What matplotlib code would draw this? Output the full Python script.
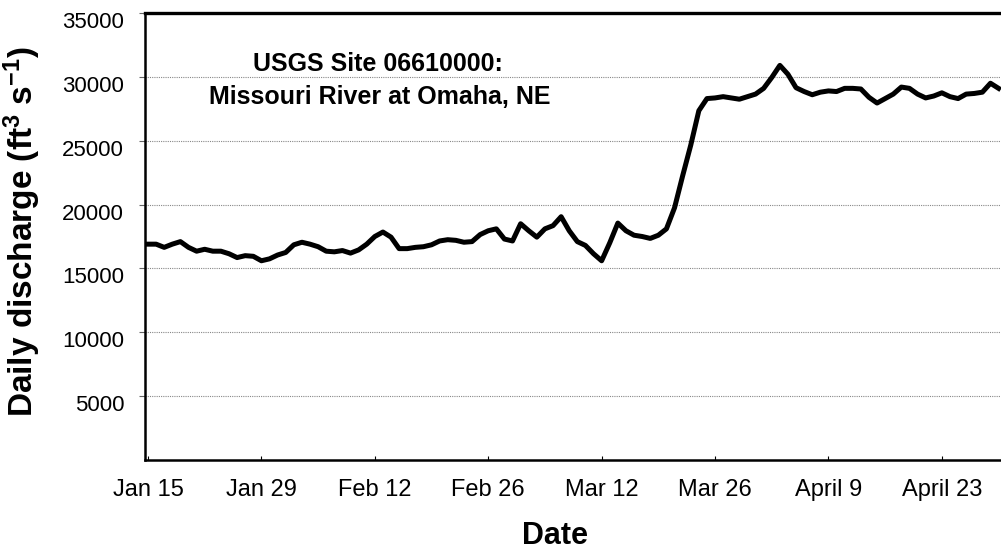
import numpy as np
import matplotlib
matplotlib.use("Agg")
import matplotlib.pyplot as plt
import matplotlib.transforms as mtransforms

plt.rcParams['font.family'] = ['Liberation Sans', 'DejaVu Sans']
plt.rcParams['mathtext.fontset'] = 'custom'
plt.rcParams['mathtext.rm'] = 'Liberation Sans:bold'
plt.rcParams['mathtext.it'] = 'Liberation Sans:bold'
plt.rcParams['mathtext.default'] = 'rm'

# daily discharge, ft3/s, one value per day starting Jan 15
discharge = [
    16900, 16900, 16650, 16900, 17100, 16650, 16350, 16500, 16350, 16350,
    16150, 15850, 16000, 15950, 15600, 15750, 16050, 16250, 16850, 17050,
    16900, 16700, 16350, 16300, 16400, 16200, 16450, 16900, 17500, 17850,
    17450, 16550, 16550, 16650, 16700, 16850, 17150, 17250, 17200, 17050,
    17100, 17650, 17950, 18100, 17300, 17150, 18500, 17950, 17450, 18100,
    18350, 19050, 17950, 17100, 16800, 16150, 15600, 17000, 18550, 17950,
    17600, 17500, 17350, 17600, 18100, 19750, 22250, 24650, 27350, 28300,
    28350, 28450, 28350, 28250, 28450, 28650, 29100, 29950, 30900, 30200,
    29150, 28850, 28600, 28800, 28900, 28850, 29100, 29100, 29050, 28400,
    27950, 28300, 28650, 29200, 29100, 28650, 28350, 28500, 28750, 28450,
    28300, 28650, 28700, 28800, 29500, 29100,
]
days = np.arange(len(discharge))

tick_days = [0, 14, 28, 42, 56, 70, 84, 98]
tick_labels = ['Jan 15', 'Jan 29', 'Feb 12', 'Feb 26', 'Mar 12', 'Mar 26', 'April 9', 'April 23']
y_ticks = [5000, 10000, 15000, 20000, 25000, 30000, 35000]

fig = plt.figure(figsize=(10.01, 5.49), dpi=100)
ax = fig.add_axes([145 / 1001, 89 / 549, 856 / 1001, 447 / 549])

ax.plot(days, discharge, color='black', lw=3.6, solid_joinstyle='round')

ax.set_xlim(-0.37, 105.3)
ax.set_ylim(0, 35000)
ax.set_yticks(y_ticks)
ax.set_yticklabels([str(v) for v in y_ticks], fontsize=16)
ax.set_xticks(tick_days)
ax.set_xticklabels(tick_labels, fontsize=17)
ax.tick_params(axis='x', direction='in', length=3, width=0.8, pad=14)
ax.tick_params(axis='y', direction='out', length=4, width=0.8, pad=11, color='#666666')

# y labels sit a little below their gridlines in the original
shift = mtransforms.ScaledTranslation(0, -7 / 100, fig.dpi_scale_trans)
for lab in ax.get_yticklabels():
    lab.set_transform(lab.get_transform() + shift)

# dotted grid
for v in y_ticks[:-1]:
    ax.axhline(v, color='#888888', lw=0.8, ls=(0, (1, 1)), zorder=0)

for s in ['left', 'bottom']:
    ax.spines[s].set_linewidth(1.8)
ax.spines['top'].set_linewidth(2.4)
ax.spines['right'].set_visible(False)

ax.set_ylabel(r'Daily discharge (ft$^{3}$ s$^{-1}$)', fontsize=24, fontweight='bold')
ax.yaxis.set_label_coords((43 - 145) / 856, 0.51)
ax.set_xlabel('Date', fontsize=22, fontweight='bold')
ax.xaxis.set_label_coords((555 - 145) / 856, (460 - 521) / 447)

fig.text(378 / 1001, 1 - 64 / 549, 'USGS Site 06610000:', fontsize=18,
         fontweight='bold', ha='center', va='center')
fig.text(380 / 1001, 1 - 97 / 549, 'Missouri River at Omaha, NE', fontsize=18,
         fontweight='bold', ha='center', va='center')

fig.savefig('out.png', dpi=100)
